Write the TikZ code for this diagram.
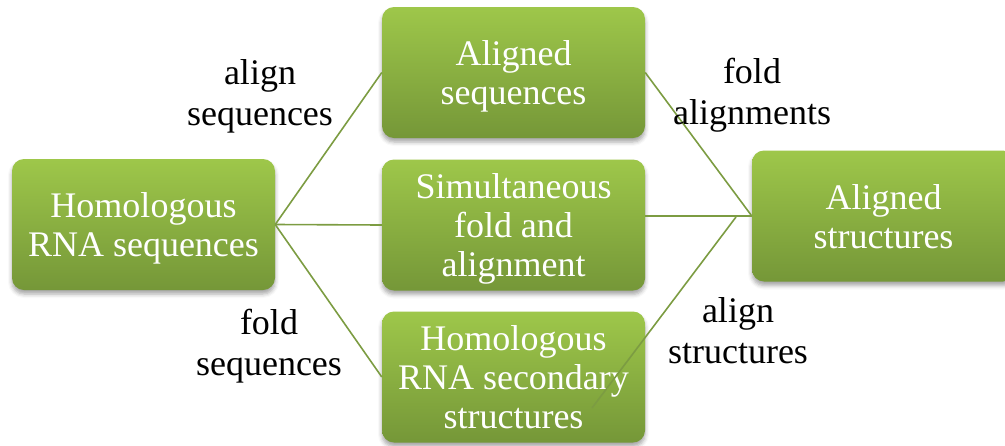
\documentclass[tikz,border=0pt]{standalone}
\usepackage{fontspec}
\setmainfont{Liberation Serif}
\usetikzlibrary{shadows.blur}
\definecolor{gtop}{RGB}{158,199,74}
\definecolor{gbot}{RGB}{117,151,56}
\definecolor{lnc}{RGB}{124,156,66}
\newcommand\topstrut{\rule{0pt}{37pt}}
\tikzset{
 box/.style={rounded corners=12pt, minimum width=263pt, minimum height=131pt, inner sep=0pt,
   top color=gtop, bottom color=gbot, draw=none, text=white, align=center,
   font=\fontsize{36}{39}\selectfont,
   blur shadow={shadow xshift=0pt, shadow yshift=-4pt, shadow blur radius=4pt, shadow opacity=35}},
 lbl/.style={align=center, inner sep=0pt, font=\fontsize{36}{41}\selectfont, text=black},
 conn/.style={draw=lnc, line width=1.6pt}
}
\begin{document}
\begin{tikzpicture}[x=1pt,y=-1pt]
\useasboundingbox (0,0) rectangle (1005,445);
\node[box] (L) at (143.5,224.5) {\topstrut Homologous\\RNA sequences\strut};
\node[box] (T) at (513.5,72.5) {\topstrut Aligned\\sequences\strut};
\node[box] (M) at (513.5,225) {\topstrut Simultaneous\\fold and\strut\\alignment\strut};
\node[box] (B) at (513.5,377) {\topstrut Homologous\\RNA secondary\strut\\structures\strut};
\node[box] (R) at (883.5,216) {\topstrut Aligned\\structures\strut};
\coordinate (J) at (736,217);
\coordinate (E) at (592,408);
\draw[conn] (L.east) -- (T.west);
\draw[conn] (L.east) -- (M.west);
\draw[conn] (L.east) -- (B.west);
\draw[conn] (T.east) -- (R.west);
\draw[conn] (M.east |- R.west) -- (R.west);
\draw[conn] (J) -- (E);
\node[lbl] (l1) at (260,97) {align\strut\\sequences\strut};
\node[lbl] (l2) at (752,96) {fold\strut\\alignments\strut};
\node[lbl] (l3) at (269,347) {fold\strut\\sequences\strut};
\node[lbl] (l4) at (738,335) {align\strut\\structures\strut};
\end{tikzpicture}
\end{document}
